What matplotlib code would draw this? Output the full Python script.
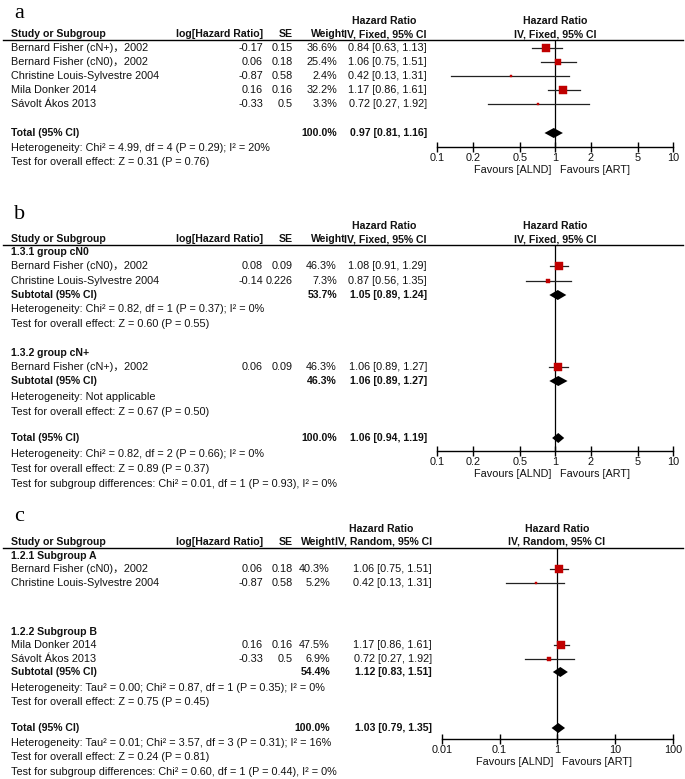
import matplotlib.pyplot as plt

# ---- data: panel a (overall, fixed effect) ----
a_studies = ["Bernard Fisher (cN+)，2002", "Bernard Fisher (cN0)，2002",
             "Christine Louis-Sylvestre 2004", "Mila Donker 2014", "Sávolt Ákos 2013"]
a_loghr = [-0.17, 0.06, -0.87, 0.16, -0.33]
a_se = [0.15, 0.18, 0.58, 0.16, 0.5]
a_weight = [36.6, 25.4, 2.4, 32.2, 3.3]
a_hr = [0.84, 1.06, 0.42, 1.17, 0.72]
a_lo = [0.63, 0.75, 0.13, 0.86, 0.27]
a_hi = [1.13, 1.51, 1.31, 1.61, 1.92]
a_total = [0.97, 0.81, 1.16]
a_het = "Heterogeneity: Chi² = 4.99, df = 4 (P = 0.29); I² = 20%"
a_test = "Test for overall effect: Z = 0.31 (P = 0.76)"

# ---- data: panel b (cN0 / cN+ subgroups, fixed effect) ----
b1_studies = ["Bernard Fisher (cN0)，2002", "Christine Louis-Sylvestre 2004"]
b1_loghr = [0.08, -0.14]
b1_se = [0.09, 0.226]
b1_weight = [46.3, 7.3]
b1_hr = [1.08, 0.87]
b1_lo = [0.91, 0.56]
b1_hi = [1.29, 1.35]
b1_sub = [53.7, 1.05, 0.89, 1.24]
b2_studies = ["Bernard Fisher (cN+)，2002"]
b2_loghr = [0.06]
b2_se = [0.09]
b2_weight = [46.3]
b2_hr = [1.06]
b2_lo = [0.89]
b2_hi = [1.27]
b2_sub = [46.3, 1.06, 0.89, 1.27]
b_total = [1.06, 0.94, 1.19]
b_texts = ["Heterogeneity: Chi² = 0.82, df = 1 (P = 0.37); I² = 0%",
           "Test for overall effect: Z = 0.60 (P = 0.55)",
           "Heterogeneity: Not applicable",
           "Test for overall effect: Z = 0.67 (P = 0.50)",
           "Heterogeneity: Chi² = 0.82, df = 2 (P = 0.66); I² = 0%",
           "Test for overall effect: Z = 0.89 (P = 0.37)",
           "Test for subgroup differences: Chi² = 0.01, df = 1 (P = 0.93), I² = 0%"]

# ---- data: panel c (subgroups A / B, random effects) ----
c1_studies = ["Bernard Fisher (cN0)，2002", "Christine Louis-Sylvestre 2004"]
c1_loghr = [0.06, -0.87]
c1_se = [0.18, 0.58]
c1_weight = [40.3, 5.2]
c1_hr = [1.06, 0.42]
c1_lo = [0.75, 0.13]
c1_hi = [1.51, 1.31]
c2_studies = ["Mila Donker 2014", "Sávolt Ákos 2013"]
c2_loghr = [0.16, -0.33]
c2_se = [0.16, 0.5]
c2_weight = [47.5, 6.9]
c2_hr = [1.17, 0.72]
c2_lo = [0.86, 0.27]
c2_hi = [1.61, 1.92]
c2_sub = [54.4, 1.12, 0.83, 1.51]
c_total = [1.03, 0.79, 1.35]
c_texts = ["Heterogeneity: Tau² = 0.00; Chi² = 0.87, df = 1 (P = 0.35); I² = 0%",
           "Test for overall effect: Z = 0.75 (P = 0.45)",
           "Heterogeneity: Tau² = 0.01; Chi² = 3.57, df = 3 (P = 0.31); I² = 16%",
           "Test for overall effect: Z = 0.24 (P = 0.81)",
           "Test for subgroup differences: Chi² = 0.60, df = 1 (P = 0.44), I² = 0%"]

ticks_ab = [0.1, 0.2, 0.5, 1, 2, 5, 10]
ticks_c = [0.01, 0.1, 1, 10, 100]

# ---- figure in pixel coordinates ----
W, H = 685, 779
plt.rcParams['font.family'] = ['Liberation Sans', 'Noto Sans CJK SC', 'DejaVu Sans']
FS = 7.8
FSB = 7.6
RED = '#c00000'
TXT = '#111111'

fig = plt.figure(figsize=(W / 100, H / 100), dpi=100)
ax0 = fig.add_axes([0, 0, 1, 1])
ax0.set_xlim(0, W)
ax0.set_ylim(H, 0)
ax0.axis('off')


def txt(x, y, s, ha='left', bold=False):
    ax0.text(x, y, s, ha=ha, va='center', color=TXT,
             fontsize=FSB if bold else FS,
             fontweight='bold' if bold else 'normal')


def ci_str(h, l, u):
    return f"{h:.2f} [{l:.2f}, {u:.2f}]"


def header(letter, ylet, y, method, w_right, hr_right, hr_mid, fx):
    # panel letter, column headings and the rule under them
    ax0.text(14, ylet, letter, fontsize=16, family='Liberation Serif', va='baseline')
    txt(11, y, "Study or Subgroup", bold=True)
    txt(263, y, "log[Hazard Ratio]", ha='right', bold=True)
    txt(293, y, "SE", ha='right', bold=True)
    txt(w_right, y, "Weight", ha='right', bold=True)
    txt(hr_mid, y - 13, "Hazard Ratio", ha='center', bold=True)
    txt(hr_right, y, f"IV, {method}, 95% CI", ha='right', bold=True)
    txt(fx, y - 13, "Hazard Ratio", ha='center', bold=True)
    txt(fx, y, f"IV, {method}, 95% CI", ha='center', bold=True)
    ax0.plot([3, 683], [y + 6, y + 6], color='k', lw=1)


def forest_axes(x0, x1, ytop, ybot, xlim, ticks):
    ax = fig.add_axes([x0 / W, 1 - ybot / H, (x1 - x0) / W, (ybot - ytop) / H])
    ax.set_xscale('log')
    ax.set_xlim(*xlim)
    ax.set_ylim(ybot, ytop)
    ax.patch.set_alpha(0)
    for s in ['top', 'left', 'right']:
        ax.spines[s].set_visible(False)
    ax.spines['bottom'].set_linewidth(1.0)
    ax.set_xticks(ticks)
    ax.set_xticklabels([f"{t:g}" for t in ticks], fontsize=FS, color=TXT)
    ax.minorticks_off()
    ax.tick_params(axis='x', direction='inout', length=7, width=1, pad=1)
    ax.set_yticks([])
    ax.axvline(1, color='k', lw=0.9, zorder=1)
    # favours labels under the axis
    cx = fig.transFigure.inverted().transform(ax.transData.transform((1, ybot)))[0] * W
    txt(cx - 4, ybot + 23, "Favours [ALND]", ha='right')
    txt(cx + 5, ybot + 23, "Favours [ART]", ha='left')
    return ax


def studies(ax, ys, names, loghr, se, weight, hr, lo, hi, w_right, hr_right):
    for y, n, g, s, w, h, l, u in zip(ys, names, loghr, se, weight, hr, lo, hi):
        txt(11, y, n)
        txt(263, y, f"{g:g}", ha='right')
        txt(293, y, f"{s:g}", ha='right')
        txt(w_right, y, f"{w:.1f}%", ha='right')
        txt(hr_right, y, ci_str(h, l, u), ha='right')
        ax.plot([l, u], [y, y], color='#222222', lw=0.9, zorder=2)
        side = 1.3 * w ** 0.5  # square area ~ weight
        ax.plot([h], [y], 's', ms=side * 0.72, color=RED, mec=RED, mew=0.3, zorder=3)


def summary(ax, y, label, weight, h, l, u, w_right, hr_right):
    txt(11, y, label, bold=True)
    txt(w_right, y, f"{weight:.1f}%", ha='right', bold=True)
    txt(hr_right, y, ci_str(h, l, u), ha='right', bold=True)
    ax.fill([l, h, u, h], [y, y - 5, y, y + 5], color='k', lw=0, zorder=3)


# ---- panel a ----
header("a", 18, 34, "Fixed", 346, 427, 384, 555)
axa = forest_axes(437.3, 673.3, 41, 147, (0.1, 10), ticks_ab)
studies(axa, [48, 62, 76, 90, 104], a_studies, a_loghr, a_se, a_weight,
        a_hr, a_lo, a_hi, 337, 427)
summary(axa, 133, "Total (95% CI)", 100.0, *a_total, 337, 427)
txt(11, 148, a_het)
txt(11, 162, a_test)

# ---- panel b ----
header("b", 219, 239, "Fixed", 346, 427, 384, 555)
axb = forest_axes(437.3, 673.3, 245, 451, (0.1, 10), ticks_ab)
txt(11, 252, "1.3.1 group cN0", bold=True)
studies(axb, [266, 281], b1_studies, b1_loghr, b1_se, b1_weight,
        b1_hr, b1_lo, b1_hi, 337, 427)
summary(axb, 295, "Subtotal (95% CI)", *b1_sub, 337, 427)
txt(11, 309, b_texts[0])
txt(11, 324, b_texts[1])
txt(11, 353, "1.3.2 group cN+", bold=True)
studies(axb, [367], b2_studies, b2_loghr, b2_se, b2_weight,
        b2_hr, b2_lo, b2_hi, 337, 427)
summary(axb, 381, "Subtotal (95% CI)", *b2_sub, 337, 427)
txt(11, 397, b_texts[2])
txt(11, 412, b_texts[3])
summary(axb, 438, "Total (95% CI)", 100.0, *b_total, 337, 427)
for y, s in zip([454, 469, 484], b_texts[4:]):
    txt(11, y, s)

# ---- panel c ----
header("c", 521, 542, "Random", 336, 432, 381, 557)
axc = forest_axes(441.7, 673.3, 548, 739, (0.01, 100), ticks_c)
txt(11, 556, "1.2.1 Subgroup A", bold=True)
studies(axc, [569, 583], c1_studies, c1_loghr, c1_se, c1_weight,
        c1_hr, c1_lo, c1_hi, 330, 432)
txt(11, 632, "1.2.2 Subgroup B", bold=True)
studies(axc, [645, 659], c2_studies, c2_loghr, c2_se, c2_weight,
        c2_hr, c2_lo, c2_hi, 330, 432)
summary(axc, 672, "Subtotal (95% CI)", *c2_sub, 330, 432)
txt(11, 688, c_texts[0])
txt(11, 702, c_texts[1])
summary(axc, 728, "Total (95% CI)", 100.0, *c_total, 330, 432)
for y, s in zip([743, 757, 772], c_texts[2:]):
    txt(11, y, s)

fig.savefig("out.png", dpi=100)
